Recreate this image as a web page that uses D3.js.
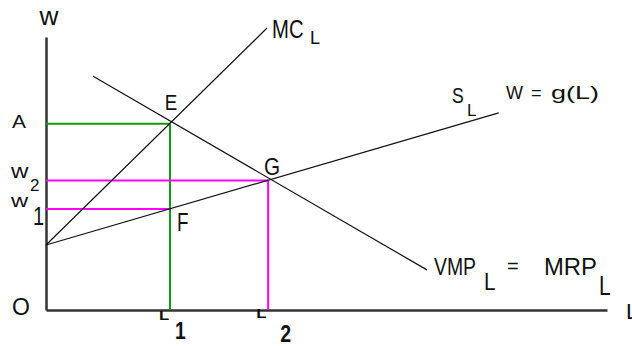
<!DOCTYPE html>
<html><head><meta charset="utf-8">
<script src="https://cdn.jsdelivr.net/npm/d3@7"></script>
<style>
html,body{margin:0;padding:0;background:#fff;}
text{font-family:"Liberation Sans",Arial,sans-serif;fill:#111;}
</style></head>
<body><svg id="c" width="632" height="346"></svg>
<script>
// Data (model units: L on x, w on y)
const supplyCurve = [[0, 23.8], [80.7, 72.2]];     // S_L  W = g(L)
const mcCurve     = [[0, 23.8], [39.4, 103.3]];    // MC_L
const vmpCurve    = [[8.4, 85.6], [67.9, 14.7]];   // VMP_L = MRP_L
const pointE = [22.1, 68.2];
const pointF = [22.1, 37.0];
const pointG = [39.6, 47.4];
const wageLevels = { A: 68.2, w2: 47.4, w1: 37.0 };
const laborLevels = { L1: 22.1, L2: 39.6 };

const svg = d3.select("#c");
const x = d3.scaleLinear().domain([0, 100]).range([46, 607]);
const y = d3.scaleLinear().domain([0, 100]).range([310, 37]);
const line = d3.line().x(d => x(d[0])).y(d => y(d[1]));

// axes
const xa = svg.append("g").attr("transform", `translate(0,${y(0)})`)
  .call(d3.axisBottom(x).tickValues([]).tickSizeOuter(0));
const ya = svg.append("g").attr("transform", `translate(${x(0)},0)`)
  .call(d3.axisLeft(y).tickValues([]).tickSizeOuter(0));
[xa, ya].forEach(a => a.select(".domain").attr("stroke", "#333").attr("stroke-width", 2.5));

// guide lines
const green = "#139a13", mag = "#ff00ff";
function seg(p, q, c) {
  svg.append("path").attr("d", line([p, q])).attr("stroke", c)
    .attr("stroke-width", 2).attr("fill", "none");
}
seg([0, wageLevels.A], pointE, green);
seg(pointE, [laborLevels.L1, 0], green);
seg([0, wageLevels.w2], pointG, mag);
seg(pointG, [laborLevels.L2, 0], mag);
seg([0, wageLevels.w1], pointF, mag);

// curves
[supplyCurve, mcCurve, vmpCurve].forEach(c =>
  svg.append("path").attr("d", line(c)).attr("stroke", "#111")
    .attr("stroke-width", 1.2).attr("fill", "none"));

// labels
function t(txt, px, py, size, opts = {}) {
  const sx = opts.sx || 1;
  const el = svg.append("text")
    .attr("transform", `translate(${px},${py}) scale(${sx},1)`)
    .attr("font-size", size).text(txt);
  if (opts.anchor) el.attr("text-anchor", opts.anchor);
  if (opts.bold) el.attr("font-weight", "bold");
  if (opts.len) el.attr("textLength", opts.len).attr("lengthAdjust", opts.adj || "spacingAndGlyphs");
  return el;
}
// axis titles
t("w", x(0) + 3, 25, 25, { anchor: "middle", sx: 1.05 });
t("L", 626, 319, 22);
t("O", 12, 315, 23);
// y labels
t("A", 12, y(wageLevels.A) + 4, 19, { sx: 1.1 });
t("w", 11, y(wageLevels.w2) - 3, 21, { sx: 1.15 });
t("2", 30, y(wageLevels.w2) + 10, 17);
t("w", 11, y(wageLevels.w1) - 2, 19, { sx: 1.25 });
t("1", 33, y(wageLevels.w1) + 16, 25, { sx: 0.8 });
// x labels
t("L", x(laborLevels.L1) - 11, 320, 12, { bold: true, sx: 1.4 });
t("1", x(laborLevels.L1) + 5, 339, 24, { bold: true, sx: 0.8 });
t("L", x(laborLevels.L2) - 12, 318, 12, { bold: true, sx: 1.4 });
t("2", x(laborLevels.L2) + 12, 342, 23, { bold: true, sx: 0.85 });
// points
t("E", x(pointE[0]) + 1, y(pointE[1]) - 14, 22, { anchor: "middle", sx: 0.85 });
t("F", x(pointF[0]) + 7, y(pointF[1]) + 22, 25, { sx: 0.75 });
t("G", x(pointG[0]) + 4, y(pointG[1]) - 6, 23, { anchor: "middle", sx: 0.9 });
// curve labels
t("MC", 272, 38, 26, { sx: 0.78 });
t("L", 310, 44, 18);
t("S", 452, 103, 22, { sx: 0.8 });
t("L", 467, 116, 17);
t("W", 506, 99, 18);
t("=", 531, 99, 18);
t("g(L)", 551, 99, 19, { len: 48 });
t("VMP", 434, 275, 24, { len: 42 });
t("L", 484, 290, 23, { sx: 0.9 });
t("=", 507, 273, 20);
t("MRP", 544, 275, 24, { len: 53 });
t("L", 599, 295, 28, { sx: 0.75 });
</script></body></html>
